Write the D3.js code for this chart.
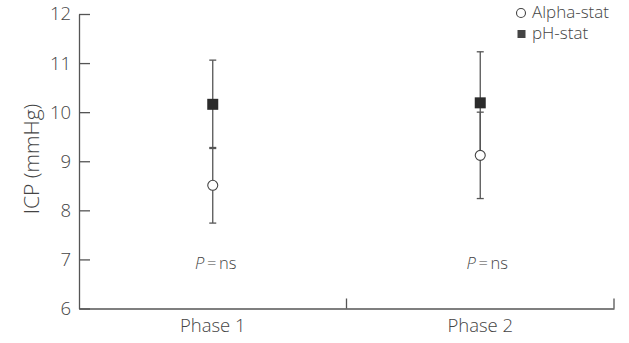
<!DOCTYPE html>
<html><head><meta charset="utf-8">
<script src="https://cdn.jsdelivr.net/npm/d3@7"></script>
<style>
body{margin:0;background:#fff;}
text{font-family:"Open Sans",Lato,sans-serif;font-weight:300;fill:#444;}
</style></head>
<body><svg id="c" width="629" height="343"></svg>
<script>
const phases = ["Phase 1", "Phase 2"];
const alphaMean = [8.51, 9.12];
const alphaSD = [0.77, 0.88];
const phMean = [10.16, 10.19];
const phSD = [0.90, 1.04];
const pLabels = ["ns", "ns"];
const yTicks = [6, 7, 8, 9, 10, 11, 12];
const seriesNames = ["Alpha-stat", "pH-stat"];

// layout
const M = {left: 79, right: 614, top: 14, bottom: 308.5};
const pTextShift = [3, 7];
const FONT = '"Open Sans", Lato, sans-serif';

const svg = d3.select("#c");
const y = d3.scaleLinear().domain([6, 12]).range([M.bottom, M.top]);
const x = d3.scaleBand().domain(phases).range([M.left, M.right]).padding(0);
const bw = x.bandwidth();
const px = p => x(p) + bw / 2;

const axisColor = "#555";

// y axis
const yAx = svg.append("g").attr("transform", `translate(${M.left},0)`)
  .call(d3.axisLeft(y).tickValues(yTicks).tickFormat(d3.format("d")).tickSizeInner(-11).tickSizeOuter(0).tickPadding(8));
yAx.select(".domain").attr("stroke", axisColor).attr("stroke-width", 1.3);
yAx.selectAll(".tick line").attr("stroke", axisColor).attr("stroke-width", 1.3);
yAx.selectAll(".tick text").attr("x", -8).style("font-size", "18.5px").style("font-family", FONT).style("font-weight", 300).attr("fill", "#444");

// x axis
const xAx = svg.append("g").attr("transform", `translate(0,${M.bottom})`)
  .call(d3.axisBottom(x).tickSize(0).tickPadding(10));
xAx.select(".domain").attr("stroke", axisColor).attr("stroke-width", 1.3);
xAx.selectAll(".tick text").style("font-size", "18.5px").style("font-family", FONT).style("font-weight", 300).attr("fill", "#444").attr("dy", "0.71em");
// boundary ticks (upward)
svg.append("g").selectAll("line").data(phases).join("line")
  .attr("x1", d => x(d) + bw).attr("x2", d => x(d) + bw)
  .attr("y1", M.bottom).attr("y2", M.bottom - 10)
  .attr("stroke", axisColor).attr("stroke-width", 1.3);

// y title
svg.append("text").attr("transform", `translate(39,159) rotate(-90)`)
  .attr("text-anchor", "middle").style("font-size", "21px").text("ICP (mmHg)");

// error bars
const capW = 7;
function errorBars(means, sds) {
  const g = svg.append("g");
  phases.forEach((p, i) => {
    const cx = px(p);
    const lo = y(means[i] - sds[i]), hi = y(means[i] + sds[i]);
    g.append("line").attr("x1", cx).attr("x2", cx).attr("y1", lo).attr("y2", hi)
      .attr("stroke", axisColor).attr("stroke-width", 1.3);
    [lo, hi].forEach(v => g.append("line").attr("x1", cx - capW / 2).attr("x2", cx + capW / 2)
      .attr("y1", v).attr("y2", v).attr("stroke", axisColor).attr("stroke-width", 1.3));
  });
}
errorBars(alphaMean, alphaSD);
errorBars(phMean, phSD);

// points
svg.append("g").selectAll("circle").data(alphaMean).join("circle")
  .attr("cx", (d, i) => px(phases[i])).attr("cy", d => y(d)).attr("r", 5)
  .attr("fill", "#fff").attr("stroke", "#444").attr("stroke-width", 1.1);
const sq = 11;
svg.append("g").selectAll("rect").data(phMean).join("rect")
  .attr("x", (d, i) => px(phases[i]) - sq / 2).attr("y", d => y(d) - sq / 2)
  .attr("width", sq).attr("height", sq).attr("fill", "#2b2b2b");

// P = ns labels
phases.forEach((p, i) => {
  const t = svg.append("text").attr("x", px(p) + pTextShift[i]).attr("y", 269)
    .attr("text-anchor", "middle").style("font-size", "16.5px");
  t.append("tspan").style("font-style", "italic").text("P");
  t.append("tspan").text("\u2009=\u2009" + pLabels[i]);
});

// legend
const lg = svg.append("g");
lg.append("circle").attr("cx", 521).attr("cy", 13).attr("r", 4.5)
  .attr("fill", "#fff").attr("stroke", "#444").attr("stroke-width", 1.1);
lg.append("rect").attr("x", 517.5).attr("y", 30).attr("width", 8).attr("height", 8).attr("fill", "#444");
lg.append("text").attr("x", 532).attr("y", 18).style("font-size", "17px").text(seriesNames[0]);
lg.append("text").attr("x", 532).attr("y", 39).style("font-size", "17px").text(seriesNames[1]);
</script></body></html>
